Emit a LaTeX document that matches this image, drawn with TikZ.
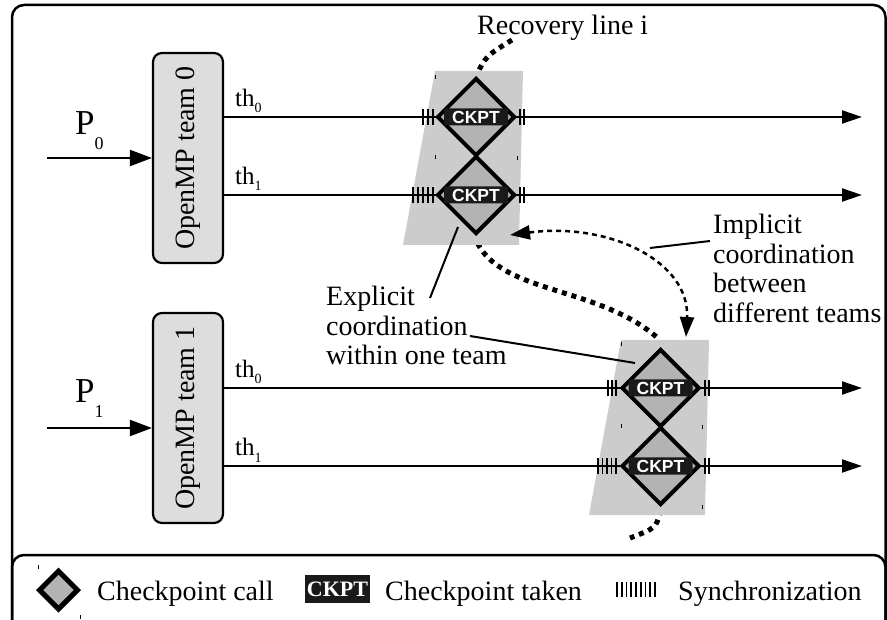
\documentclass[tikz,border=0pt]{standalone}
\usepackage{fontspec}
\usepackage{graphicx}
\setmainfont{Liberation Serif}
\newfontfamily\ckptsans{Liberation Sans}
\usetikzlibrary{positioning,arrows.meta,shapes.geometric}

\definecolor{teamgray}{HTML}{DDDDDD}
\definecolor{zonegray}{HTML}{CCCCCC}
\definecolor{callgray}{HTML}{B3B3B3}
\definecolor{ckptblack}{HTML}{1A1A1A}

\newcommand{\txtbig}{\fontsize{28}{29.5}\selectfont}
\newcommand{\thlab}[1]{\fontsize{25}{25}\selectfont th\raisebox{-6pt}{\fontsize{14}{14}\selectfont #1}}
\newcommand{\plab}[1]{\fontsize{35}{35}\selectfont P\raisebox{-15pt}{\fontsize{18}{18}\selectfont #1}}

\tikzset{
  frame/.style={line width=2.5pt, rounded corners=12pt},
  team/.style={draw, line width=2.2pt, rounded corners=9pt, fill=teamgray,
    minimum width=70pt, minimum height=210pt, inner sep=0pt, font=\txtbig},
  call/.style={diamond, draw, line width=4pt, fill=callgray,
    minimum width=78pt, minimum height=78pt, inner sep=0pt},
  ckpt/.style={fill=ckptblack, rounded corners=1.5pt, minimum width=64pt,
    minimum height=17pt, inner sep=0pt, text=white,
    font=\ckptsans\bfseries\fontsize{17.5}{17.5}\selectfont},
  lckpt/.style={fill=ckptblack, minimum width=65pt, minimum height=28pt,
    inner sep=0pt, text=white, font=\bfseries\fontsize{22}{22}\selectfont},
  thread/.style={line width=2pt, -{Triangle[length=20pt,width=13pt]}},
  input/.style={line width=2.2pt, -{Triangle[length=22pt,width=16pt]}},
  sync/.style={line width=1.8pt},
  recov/.style={line width=5pt, dash pattern=on 5pt off 5pt},
  implicit/.style={line width=2.5pt, dash pattern=on 5pt off 4pt,
    {Triangle[length=20pt,width=14pt]}-{Triangle[length=20pt,width=14pt]}},
  pointer/.style={line width=2pt},
  speck/.style={line width=1pt},
  lbl/.style={inner sep=0pt, font=\txtbig}
}

\begin{document}
\begin{tikzpicture}[x=1pt,y=-1pt]
\useasboundingbox (0,0) rectangle (887,620);
% outer frame and legend box
\draw[frame] (12,5) rectangle (885.5,632);
\draw[frame] (12,555) rectangle (885.5,632);

% recovery line i, runs under the shaded zones
\draw[recov] (512,40) .. controls (486,56) .. (476,76) -- (476,240)
  .. controls (500,295) and (600,285) .. (660,340) -- (660,512)
  .. controls (656,528) .. (630,538);
\node[lbl, anchor=base west] (recov) at (477,35) {Recovery line i};

% shaded zones
\fill[zonegray] (435,71) -- (523,71) -- (519,245) -- (403,245) -- cycle;
\fill[zonegray] (621,340) -- (709,340) -- (705,515) -- (589,515) -- cycle;
\draw[speck] (435,75) -- ++(0,4) (435,155) -- ++(0,4) (517,156) -- ++(0,4);
\draw[speck] (621,342) -- ++(0,4) (621,424) -- ++(0,4) (702,425) -- ++(0,4)
  (702,505) -- ++(0,4);

% openmp teams
\node[team] (team0) at (188,158) {\rotatebox{90}{OpenMP team 0}};
\node[team] (team1) at (188,418) {\rotatebox{90}{OpenMP team 1}};
\coordinate (tip) at (862,0);

% checkpoint calls
\coordinate (c00pos) at (476,117);
\coordinate (c01pos) at (476,195);
\coordinate (c10pos) at (660.5,388);
\coordinate (c11pos) at (660.5,466);

% threads
\draw[thread] (team0.east |- c00pos) -- (tip |- c00pos);
\draw[thread] (team0.east |- c01pos) -- (tip |- c01pos);
\draw[thread] (team1.east |- c10pos) -- (tip |- c10pos);
\draw[thread] (team1.east |- c11pos) -- (tip |- c11pos);
\node[anchor=base west, inner sep=0pt] (th00) at (235,107) {\thlab{0}};
\node[anchor=base west, inner sep=0pt] (th01) at (235,185) {\thlab{1}};
\node[anchor=base west, inner sep=0pt] (th10) at (235,378) {\thlab{0}};
\node[anchor=base west, inner sep=0pt] (th11) at (235,456) {\thlab{1}};

% synchronization
\foreach \x in {423,428,433,520,524} \draw[sync] (\x,109) -- ++(0,16);
\foreach \x in {413,418,423,428,433,520,524} \draw[sync] (\x,187) -- ++(0,16);
\foreach \x in {608,612,616,705,709} \draw[sync] (\x,380) -- ++(0,16);
\foreach \x in {598,602.5,607,611.5,616,705,709} \draw[sync] (\x,458) -- ++(0,16);

\node[call] (c00) at (c00pos) {};
\node[call] (c01) at (c01pos) {};
\node[call] (c10) at (c10pos) {};
\node[call] (c11) at (c11pos) {};
\node[ckpt] (k00) at (c00) {CKPT};
\node[ckpt] (k01) at (c01) {CKPT};
\node[ckpt] (k10) at (c10) {CKPT};
\node[ckpt] (k11) at (c11) {CKPT};

% processes
\coordinate (in0) at (47,158);
\coordinate (in1) at (47,428);
\draw[input] (in0) -- (in0 -| team0.west);
\draw[input] (in1) -- (in1 -| team1.west);
\node[anchor=base west, inner sep=0pt] (p0) at (75,135) {\plab{0}};
\node[anchor=base west, inner sep=0pt] (p1) at (75,403) {\plab{1}};

% coordination
\coordinate (impA) at (510,235);
\coordinate (impB) at (686,337);
\draw[implicit] (impA) .. controls (610,222) and (690,262) .. (impB);
\node[lbl, anchor=north west, align=left] (impl) at (713,214)
  {Implicit\\coordination\\between\\different teams};
\coordinate (implpt) at (650,248);
\draw[pointer] (implpt) -- (710,241);
\node[lbl, anchor=north west, align=left] (expl) at (326,286)
  {Explicit\\coordination\\within one team};
\coordinate (explA) at (430,298);
\coordinate (explB) at (470,336);
\draw[pointer] (explA) -- (458,227);
\draw[pointer] (explB) -- (635,363);

% legend
\node[call, minimum width=40pt, minimum height=40pt, line width=5pt] (lcall) at (58.5,590) {};
\draw[speck] (38,565) -- ++(0,4) (80,615) -- ++(0,4);
\node[lbl, anchor=base west] (lcalltxt) at (97,600) {Checkpoint call};
\node[lckpt] (lck) at (337.5,589) {CKPT};
\node[lbl, anchor=base west] (lcktxt) at (385,600) {Checkpoint taken};
\foreach \i in {0,...,8} \draw[sync] (617+\i*4.75,582) -- ++(0,15);
\node[lbl, anchor=base west] (lsynctxt) at (678,600) {Synchronization};
\end{tikzpicture}
\end{document}
